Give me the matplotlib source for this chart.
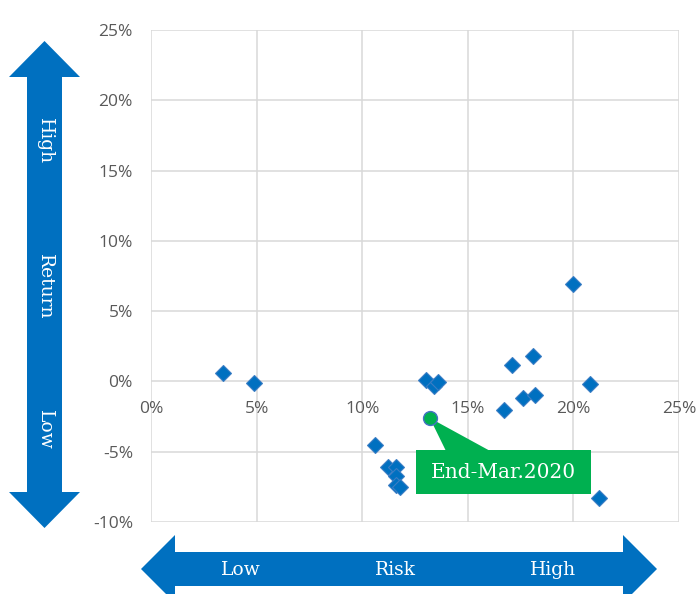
import matplotlib
matplotlib.use("Agg")
import matplotlib.pyplot as plt
from matplotlib.patches import Polygon
from matplotlib.ticker import FuncFormatter

# risk (x) and return (y) in percent
risk = [3.4, 4.9, 13.0, 13.4, 13.6, 17.1, 18.1, 16.7, 17.6, 18.2, 20.8,
        21.2, 20.0, 10.6, 11.2, 11.6, 11.6, 11.6, 11.8]
ret = [0.6, -0.1, 0.1, -0.3, -0.05, 1.2, 1.8, -2.0, -1.2, -1.0, -0.2,
       -8.3, 6.9, -4.5, -6.1, -6.1, -6.7, -7.4, -7.5]

now_risk = [13.2]
now_ret = [-2.6]
now_label = "End-Mar.2020"

xticks = [0, 5, 10, 15, 20, 25]
yticks = [-10, -5, 0, 5, 10, 15, 20, 25]

W, H = 698, 594
fig = plt.figure(figsize=(W / 100, H / 100), dpi=100)
ax = fig.add_axes([151 / W, 1 - 522 / H, (679 - 151) / W, (522 - 30) / H])

blue = "#0070C0"
green = "#00B050"
grey = "#595959"
serif = "DejaVu Serif"

ax.set_xlim(0, 25)
ax.set_ylim(-10, 25)
ax.set_xticks(xticks)
ax.set_yticks(yticks)
pct = FuncFormatter(lambda v, p: f"{v:.0f}%")
ax.xaxis.set_major_formatter(pct)
ax.yaxis.set_major_formatter(pct)
ax.grid(True, color="#D9D9D9", lw=1.1)
ax.set_axisbelow(True)
for s in ax.spines.values():
    s.set_visible(False)
ax.spines["bottom"].set_position(("data", 0))
ax.tick_params(length=0, labelsize=12.5, labelcolor=grey)
ax.tick_params(axis="x", pad=14)
ax.tick_params(axis="y", pad=13)
for lab in ax.get_xticklabels() + ax.get_yticklabels():
    lab.set_family("Open Sans")

ax.plot(risk, ret, "D", ms=8.5, mfc=blue, mec="#3C7DC4", mew=0.8,
        ls="none", zorder=3)

# callout for the current point
cx, cy = now_risk[0], now_ret[0]
box_x0, box_x1 = cx - 0.65, cx + 7.65
box_y0, box_y1 = cy - 5.4, cy - 2.3
ax.add_patch(Polygon([(cx, cy), (cx + 0.75, box_y1), (cx + 2.8, box_y1)],
                     closed=True, fc=green, ec="none", zorder=4))
ax.add_patch(Polygon([(box_x0, box_y0), (box_x1, box_y0), (box_x1, box_y1),
                      (box_x0, box_y1)], closed=True, fc=green, ec="none",
                     zorder=4))
ax.text((box_x0 + box_x1) / 2, (box_y0 + box_y1) / 2, now_label,
        ha="center", va="center", color="white", fontsize=14.5,
        family=serif, zorder=5)
ax.plot(now_risk, now_ret, "o", ms=10, mfc=green, mec="#4472C4", mew=1.0,
        zorder=6)

# overlay in pixel coordinates for the big arrows
ov = fig.add_axes([0, 0, 1, 1], zorder=-1)
ov.set_xlim(0, W)
ov.set_ylim(H, 0)
ov.axis("off")

vert = [(44.5, 41), (80, 77), (62, 77), (62, 492), (80, 492), (44.5, 528),
        (9, 492), (27, 492), (27, 77), (9, 77)]
ov.add_patch(Polygon(vert, closed=True, fc=blue, ec="none"))
horiz = [(141, 569), (175, 535), (175, 552), (623, 552), (623, 535),
         (657, 569), (623, 603), (623, 586), (175, 586), (175, 603)]
ov.add_patch(Polygon(horiz, closed=True, fc=blue, ec="none"))

for txt, yy in [("High", 141), ("Return", 287), ("Low", 430)]:
    ov.text(44.5, yy, txt, rotation=-90, ha="center", va="center",
            color="white", fontsize=13.5, family=serif)
for txt, xx in [("Low", 241), ("Risk", 395), ("High", 553)]:
    ov.text(xx, 570, txt, ha="center", va="center", color="white",
            fontsize=13.5, family=serif)

fig.savefig("out.png", dpi=100)
